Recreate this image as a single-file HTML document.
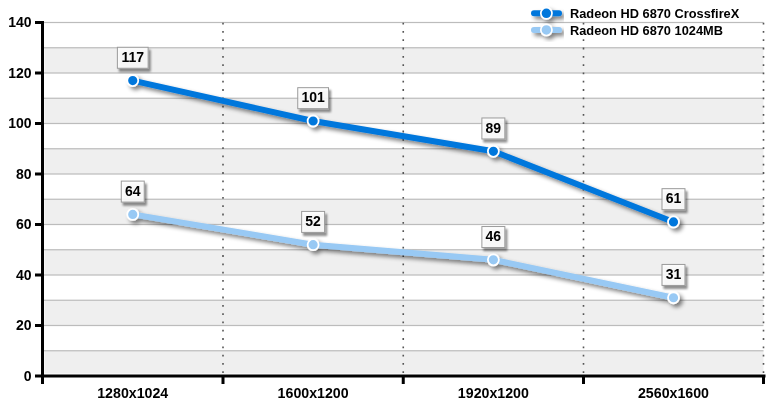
<!DOCTYPE html><html><head><meta charset="utf-8"><style>html,body{margin:0;padding:0;background:#fff;width:773px;height:407px;overflow:hidden}</style></head><body><svg width="773" height="407" viewBox="0 0 773 407" style="display:block;will-change:transform">
<defs>
<filter id="sh" x="-20%" y="-50%" width="140%" height="200%"><feGaussianBlur in="SourceAlpha" stdDeviation="2"/><feOffset dx="2.5" dy="3"/><feComponentTransfer><feFuncA type="linear" slope="0.5"/></feComponentTransfer><feMerge><feMergeNode/><feMergeNode in="SourceGraphic"/></feMerge></filter>
<filter id="bsh" x="-30%" y="-30%" width="160%" height="160%"><feGaussianBlur in="SourceAlpha" stdDeviation="0.9"/><feOffset dx="2.3" dy="2.6"/><feComponentTransfer><feFuncA type="linear" slope="0.5"/></feComponentTransfer><feMerge><feMergeNode/><feMergeNode in="SourceGraphic"/></feMerge></filter>
</defs>
<rect width="773" height="407" fill="#fff"/>
<rect x="44.5" y="350.75" width="719.0" height="22.75" fill="#efefef"/>
<rect x="44.5" y="300.25" width="719.0" height="25.25" fill="#efefef"/>
<rect x="44.5" y="249.75" width="719.0" height="25.25" fill="#efefef"/>
<rect x="44.5" y="199.25" width="719.0" height="25.25" fill="#efefef"/>
<rect x="44.5" y="148.75" width="719.0" height="25.25" fill="#efefef"/>
<rect x="44.5" y="98.25" width="719.0" height="25.25" fill="#efefef"/>
<rect x="44.5" y="47.75" width="719.0" height="25.25" fill="#efefef"/>
<rect x="44" y="350.15" width="719.5" height="1.2" fill="#bcbcbc"/>
<rect x="44" y="324.90" width="719.5" height="1.2" fill="#bcbcbc"/>
<rect x="44" y="299.65" width="719.5" height="1.2" fill="#bcbcbc"/>
<rect x="44" y="274.40" width="719.5" height="1.2" fill="#bcbcbc"/>
<rect x="44" y="249.15" width="719.5" height="1.2" fill="#bcbcbc"/>
<rect x="44" y="223.90" width="719.5" height="1.2" fill="#bcbcbc"/>
<rect x="44" y="198.65" width="719.5" height="1.2" fill="#bcbcbc"/>
<rect x="44" y="173.40" width="719.5" height="1.2" fill="#bcbcbc"/>
<rect x="44" y="148.15" width="719.5" height="1.2" fill="#bcbcbc"/>
<rect x="44" y="122.90" width="719.5" height="1.2" fill="#bcbcbc"/>
<rect x="44" y="97.65" width="719.5" height="1.2" fill="#bcbcbc"/>
<rect x="44" y="72.40" width="719.5" height="1.2" fill="#bcbcbc"/>
<rect x="44" y="47.15" width="719.5" height="1.2" fill="#bcbcbc"/>
<rect x="44" y="21.90" width="719.5" height="1.2" fill="#bcbcbc"/>
<line x1="223" y1="22.5" x2="223" y2="375" stroke="#555" stroke-width="1.6" stroke-dasharray="1.8 6.5" stroke-dashoffset="-0.2"/>
<line x1="403.25" y1="22.5" x2="403.25" y2="375" stroke="#555" stroke-width="1.6" stroke-dasharray="1.8 6.5" stroke-dashoffset="-0.2"/>
<line x1="583.5" y1="22.5" x2="583.5" y2="375" stroke="#555" stroke-width="1.6" stroke-dasharray="1.8 6.5" stroke-dashoffset="-0.2"/>
<line x1="763.5" y1="22.5" x2="763.5" y2="375" stroke="#555" stroke-width="1.6" stroke-dasharray="1.8 6.5" stroke-dashoffset="-0.2"/>
<rect x="41" y="21" width="3" height="363" fill="#000"/>
<rect x="41" y="374.5" width="724.5" height="3" fill="#000"/>
<rect x="35" y="374.50" width="8" height="3" fill="#000"/>
<rect x="35" y="324.00" width="8" height="3" fill="#000"/>
<rect x="35" y="273.50" width="8" height="3" fill="#000"/>
<rect x="35" y="223.00" width="8" height="3" fill="#000"/>
<rect x="35" y="172.50" width="8" height="3" fill="#000"/>
<rect x="35" y="122.00" width="8" height="3" fill="#000"/>
<rect x="35" y="71.50" width="8" height="3" fill="#000"/>
<rect x="35" y="21.00" width="8" height="3" fill="#000"/>
<rect x="221.5" y="375" width="3" height="9" fill="#000"/>
<rect x="401.75" y="375" width="3" height="9" fill="#000"/>
<rect x="582.0" y="375" width="3" height="9" fill="#000"/>
<rect x="762.0" y="375" width="3" height="9" fill="#000"/>
<text x="31.5" y="380.80" font-family="Liberation Sans, sans-serif" font-weight="bold" font-size="14" text-anchor="end">0</text>
<text x="31.5" y="330.30" font-family="Liberation Sans, sans-serif" font-weight="bold" font-size="14" text-anchor="end">20</text>
<text x="31.5" y="279.80" font-family="Liberation Sans, sans-serif" font-weight="bold" font-size="14" text-anchor="end">40</text>
<text x="31.5" y="229.30" font-family="Liberation Sans, sans-serif" font-weight="bold" font-size="14" text-anchor="end">60</text>
<text x="31.5" y="178.80" font-family="Liberation Sans, sans-serif" font-weight="bold" font-size="14" text-anchor="end">80</text>
<text x="31.5" y="128.30" font-family="Liberation Sans, sans-serif" font-weight="bold" font-size="14" text-anchor="end">100</text>
<text x="31.5" y="77.80" font-family="Liberation Sans, sans-serif" font-weight="bold" font-size="14" text-anchor="end">120</text>
<text x="31.5" y="27.30" font-family="Liberation Sans, sans-serif" font-weight="bold" font-size="14" text-anchor="end">140</text>
<text x="132.75" y="397.8" font-family="Liberation Sans, sans-serif" font-weight="bold" font-size="14.2" text-anchor="middle">1280x1024</text>
<text x="313.12" y="397.8" font-family="Liberation Sans, sans-serif" font-weight="bold" font-size="14.2" text-anchor="middle">1600x1200</text>
<text x="493.38" y="397.8" font-family="Liberation Sans, sans-serif" font-weight="bold" font-size="14.2" text-anchor="middle">1920x1200</text>
<text x="673.50" y="397.8" font-family="Liberation Sans, sans-serif" font-weight="bold" font-size="14.2" text-anchor="middle">2560x1600</text>
<g filter="url(#sh)"><polyline points="132.75,214.40 313.12,244.70 493.38,259.85 673.50,297.73" fill="none" stroke="#98c9f4" stroke-width="6" stroke-linejoin="round"/>
<circle cx="132.75" cy="214.40" r="5.5" fill="#98c9f4" stroke="#fff" stroke-width="1.8"/>
<circle cx="313.12" cy="244.70" r="5.5" fill="#98c9f4" stroke="#fff" stroke-width="1.8"/>
<circle cx="493.38" cy="259.85" r="5.5" fill="#98c9f4" stroke="#fff" stroke-width="1.8"/>
<circle cx="673.50" cy="297.73" r="5.5" fill="#98c9f4" stroke="#fff" stroke-width="1.8"/>
</g>
<g filter="url(#sh)"><polyline points="132.75,80.57 313.12,120.98 493.38,151.28 673.50,221.97" fill="none" stroke="#0477dc" stroke-width="6" stroke-linejoin="round"/>
<circle cx="132.75" cy="80.57" r="5.5" fill="#0477dc" stroke="#fff" stroke-width="1.8"/>
<circle cx="313.12" cy="120.98" r="5.5" fill="#0477dc" stroke="#fff" stroke-width="1.8"/>
<circle cx="493.38" cy="151.28" r="5.5" fill="#0477dc" stroke="#fff" stroke-width="1.8"/>
<circle cx="673.50" cy="221.97" r="5.5" fill="#0477dc" stroke="#fff" stroke-width="1.8"/>
</g>
<g filter="url(#bsh)"><rect x="121.27" y="181.10" width="22.97" height="21" fill="#fff" fill-opacity="0.85" stroke="#9a9a9a" stroke-width="1"/></g>
<text x="132.75" y="195.90" font-family="Liberation Sans, sans-serif" font-weight="bold" font-size="14" text-anchor="middle">64</text>
<g filter="url(#bsh)"><rect x="301.64" y="211.40" width="22.97" height="21" fill="#fff" fill-opacity="0.85" stroke="#9a9a9a" stroke-width="1"/></g>
<text x="313.12" y="226.20" font-family="Liberation Sans, sans-serif" font-weight="bold" font-size="14" text-anchor="middle">52</text>
<g filter="url(#bsh)"><rect x="481.89" y="226.55" width="22.97" height="21" fill="#fff" fill-opacity="0.85" stroke="#9a9a9a" stroke-width="1"/></g>
<text x="493.38" y="241.35" font-family="Liberation Sans, sans-serif" font-weight="bold" font-size="14" text-anchor="middle">46</text>
<g filter="url(#bsh)"><rect x="662.01" y="264.43" width="22.97" height="21" fill="#fff" fill-opacity="0.85" stroke="#9a9a9a" stroke-width="1"/></g>
<text x="673.50" y="279.23" font-family="Liberation Sans, sans-serif" font-weight="bold" font-size="14" text-anchor="middle">31</text>
<g filter="url(#bsh)"><rect x="117.37" y="47.27" width="30.76" height="21" fill="#fff" fill-opacity="0.85" stroke="#9a9a9a" stroke-width="1"/></g>
<text x="132.75" y="62.07" font-family="Liberation Sans, sans-serif" font-weight="bold" font-size="14" text-anchor="middle">117</text>
<g filter="url(#bsh)"><rect x="297.75" y="87.68" width="30.76" height="21" fill="#fff" fill-opacity="0.85" stroke="#9a9a9a" stroke-width="1"/></g>
<text x="313.12" y="102.48" font-family="Liberation Sans, sans-serif" font-weight="bold" font-size="14" text-anchor="middle">101</text>
<g filter="url(#bsh)"><rect x="481.89" y="117.97" width="22.97" height="21" fill="#fff" fill-opacity="0.85" stroke="#9a9a9a" stroke-width="1"/></g>
<text x="493.38" y="132.78" font-family="Liberation Sans, sans-serif" font-weight="bold" font-size="14" text-anchor="middle">89</text>
<g filter="url(#bsh)"><rect x="662.01" y="188.67" width="22.97" height="21" fill="#fff" fill-opacity="0.85" stroke="#9a9a9a" stroke-width="1"/></g>
<text x="673.50" y="203.47" font-family="Liberation Sans, sans-serif" font-weight="bold" font-size="14" text-anchor="middle">61</text>
<g filter="url(#sh)"><line x1="534" y1="13.3" x2="559" y2="13.3" stroke="#0477dc" stroke-width="6" stroke-linecap="round"/><circle cx="546.4" cy="13.3" r="5.6" fill="#0477dc" stroke="#fff" stroke-width="1.7"/></g>
<text x="570" y="18.10" font-family="Liberation Sans, sans-serif" font-weight="bold" font-size="12.8">Radeon HD 6870 CrossfireX</text>
<g filter="url(#sh)"><line x1="534" y1="29.900000000000002" x2="559" y2="29.900000000000002" stroke="#98c9f4" stroke-width="6" stroke-linecap="round"/><circle cx="546.4" cy="29.900000000000002" r="5.6" fill="#98c9f4" stroke="#fff" stroke-width="1.7"/></g>
<text x="570" y="34.70" font-family="Liberation Sans, sans-serif" font-weight="bold" font-size="12.8">Radeon HD 6870 1024MB</text>
</svg></body></html>
